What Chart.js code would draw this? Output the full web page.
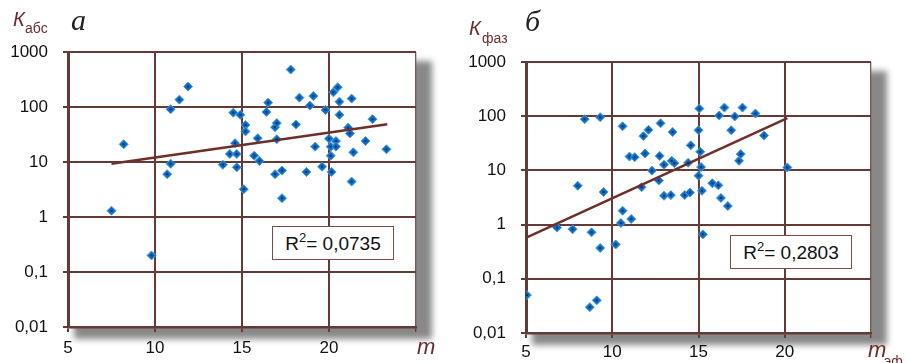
<!DOCTYPE html>
<html>
<head>
<meta charset="utf-8">
<script src="https://cdn.jsdelivr.net/npm/chart.js@4"></script>
<style>
  body { margin: 0; background: #fff; }
  #wrap { position: relative; width: 908px; height: 363px; overflow: hidden; }
  .panel { position: absolute; top: 0; width: 454px; height: 363px; }
  .lbl { position: absolute; line-height: 1; white-space: nowrap; font-family: "Liberation Sans", Arial, sans-serif; }
  .k { color: #6b2c2c; font-style: italic; font-size: 20px; }
  .sub { color: #6b2c2c; font-size: 14px; }
  .letter { font-family: "Liberation Serif", "DejaVu Serif", serif; font-style: italic; font-size: 30px; color: #222; }
  .m { color: #6b2c2c; font-style: italic; font-size: 22px; }
  .rbox { position: absolute; background: #fff; border: 1.5px solid #7d4a45; box-sizing: border-box;
          font-family: "Liberation Sans", Arial, sans-serif; font-size: 19px; color: #111;
          text-align: center; line-height: 33px; }
  .rbox sup { font-size: 13px; vertical-align: 8px; line-height: 0; }
</style>
</head>
<body>
<div id="wrap">
  <div class="panel" style="left:0"><canvas id="chartA" width="454" height="363"></canvas></div>
  <div class="panel" style="left:454px"><canvas id="chartB" width="454" height="363"></canvas></div>

  <span class="lbl k" style="left:13px;top:9px">К</span>
  <span class="lbl sub" style="left:25px;top:21px">абс</span>
  <span class="lbl letter" style="left:71px;top:5px">а</span>
  <span class="lbl m" style="left:417px;top:336px">m</span>

  <span class="lbl k" style="left:469px;top:18px">К</span>
  <span class="lbl sub" style="left:482px;top:31px">фаз</span>
  <span class="lbl letter" style="left:525px;top:6px">б</span>
  <span class="lbl m" style="left:868px;top:339px">m</span>
  <span class="lbl sub" style="left:884px;top:354px">эф</span>

  <div class="rbox" style="left:272px;top:226px;width:122px;height:34px">R<sup>2</sup>= 0,0735</div>
  <div class="rbox" style="left:730px;top:235px;width:122px;height:34px">R<sup>2</sup>= 0,2803</div>
</div>

<script>
// ---- data ----
const xTicks = [5, 10, 15, 20, 25];
const yTicks = [0.01, 0.1, 1, 10, 100, 1000];

// panel "а": m vs K_abs
const absX = [7.5, 8.2, 9.8, 10.7, 10.9, 10.9, 11.4, 11.9, 13.9, 14.3, 14.5, 14.6, 14.7, 14.7,
  14.9, 15.1, 15.2, 15.2, 15.7, 15.9, 16.0, 16.4, 16.5, 16.9, 16.9, 17.0, 17.0, 17.3, 17.3,
  17.8, 18.1, 18.3, 18.7, 18.9, 19.1, 19.2, 19.6, 19.8, 20.0, 20.1, 20.15, 20.1, 20.25, 20.4,
  20.4, 20.5, 20.6, 20.6, 21.1, 21.2, 21.3, 21.3, 21.4, 22.1, 22.5, 23.3];
const absY = [1.3, 21, 0.2, 6, 9.3, 91, 136, 235, 8.9, 14, 79, 22, 14, 8,
  72, 3.2, 47, 36, 13, 27, 10.4, 81, 120, 6, 43, 51, 26, 7, 2.2,
  480, 48, 148, 6.6, 106, 158, 19, 8.2, 88, 26.5, 13, 6.6, 19, 185, 24,
  19, 228, 125, 72, 42, 33, 142, 4.4, 15, 24, 60, 17];
const absTrendX = [7.5, 23.35];
const absTrendY = [9.3, 48.4];

// panel "б": m_эф vs K_фаз
const fazX = [5.05, 6.8, 7.7, 8.0, 8.4, 8.7, 8.8, 9.1, 9.3, 9.3, 9.5, 10.2, 10.5, 10.6, 10.6,
  11.0, 11.1, 11.3, 11.7, 11.8, 11.9, 12.1, 12.3, 12.7, 12.75, 12.8, 13.0, 13.0, 13.4, 13.45,
  13.5, 13.6, 14.2, 14.4, 14.5, 14.55, 15.0, 15.05, 15.0, 15.1, 15.15, 15.2, 15.25, 15.8,
  16.15, 16.2, 16.3, 16.5, 16.7, 16.9, 17.1, 17.35, 17.45, 17.55, 18.3, 18.8, 20.15];
const fazY = [0.05, 0.88, 0.82, 5.2, 88, 0.03, 0.72, 0.04, 0.37, 96, 4.0, 0.43, 1.07, 1.8, 65,
  18, 1.27, 17.5, 4.9, 43, 20.5, 56, 9.9, 6.5, 18.5, 74, 3.4, 12.7, 3.5, 15,
  51, 13.6, 3.5, 13.8, 3.9, 29, 8.0, 138, 55, 22, 11.5, 4.2, 0.66, 5.8,
  5.3, 103, 3.1, 144, 2.2, 55, 99, 15, 20, 144, 112, 44, 11.3];
const fazTrendX = [5.05, 20.15];
const fazTrendY = [0.58, 92];

const gridColor = "#633a36";
const tickFont = { family: "'Liberation Sans', Arial, sans-serif", size: 17 };

function toPoints(xs, ys) {
  return xs.map((x, i) => ({ x: x, y: ys[i] }));
}

function yLabel(v) {
  return String(v).replace(".", ",");
}

// grey drop shadow behind the plot area, then white plot background
const shadowPlugin = {
  id: "shadow",
  beforeDraw(chart) {
    const a = chart.chartArea;
    const ctx = chart.ctx;
    ctx.save();
    ctx.filter = "blur(3px)";
    ctx.fillStyle = "#888";
    ctx.fillRect(a.left + 6, a.top + 9, a.right - a.left + 10, a.bottom - a.top + 3);
    ctx.restore();
    ctx.save();
    ctx.fillStyle = "#fff";
    ctx.fillRect(a.left, a.top, a.right - a.left, a.bottom - a.top);
    ctx.restore();
  },
};

// small dark centre in every marker
const dotPlugin = {
  id: "dots",
  afterDatasetsDraw(chart) {
    const ctx = chart.ctx;
    const meta = chart.getDatasetMeta(1);
    ctx.save();
    ctx.fillStyle = "#0b2e66";
    meta.data.forEach((p) => ctx.fillRect(p.x - 1, p.y - 1, 2, 2));
    ctx.restore();
  },
};

function makeChart(id, xs, ys, tx, ty, opts) {
  const ctx = document.getElementById(id).getContext("2d");
  return new Chart(ctx, {
    type: "scatter",
    data: {
      datasets: [
        {
          type: "line",
          data: toPoints(tx, ty),
          borderColor: "#6e2f2a",
          borderWidth: 2.5,
          pointRadius: 0,
          order: 0,
        },
        {
          data: toPoints(xs, ys),
          pointStyle: "rectRot",
          pointRadius: 4.5,
          pointHoverRadius: 4.5,
          backgroundColor: "#0b6ec2",
          borderColor: "#4f9be0",
          borderWidth: 1,
          order: 1,
        },
      ],
    },
    options: {
      responsive: false,
      animation: false,
      events: [],
      layout: { padding: { top: opts.top, right: opts.right, left: 0, bottom: 0 } },
      plugins: { legend: { display: false }, tooltip: { enabled: false } },
      scales: {
        x: {
          type: "linear",
          min: 5,
          max: 25,
          afterBuildTicks: (s) => { s.ticks = xTicks.map((v) => ({ value: v })); },
          afterFit: (s) => { s.height = opts.xh; },
          ticks: {
            color: "#111",
            font: tickFont,
            padding: opts.xpad,
            maxRotation: 0,
            callback: (v) => (v === 25 ? "" : String(v)),
          },
          grid: {
            color: (c) => (c.tick && c.tick.value === 25 ? "#7d5551" : gridColor),
            lineWidth: (c) => (c.tick && c.tick.value === 25 ? 1.3 : 2),
            tickLength: 5,
            tickColor: gridColor,
          },
          border: { color: gridColor, width: 2.5 },
        },
        y: {
          type: "logarithmic",
          min: 0.01,
          max: 1000,
          afterBuildTicks: (s) => { s.ticks = yTicks.map((v) => ({ value: v })); },
          afterFit: (s) => { s.width = opts.yw; },
          ticks: {
            color: "#111",
            font: tickFont,
            padding: 15,
            callback: (v) => yLabel(v),
          },
          grid: { color: gridColor, lineWidth: 2, tickLength: 5, tickColor: gridColor },
          border: { color: gridColor, width: 3 },
        },
      },
    },
    plugins: [shadowPlugin, dotPlugin],
  });
}

makeChart("chartA", absX, absY, absTrendX, absTrendY, { top: 52, right: 38, yw: 68, xh: 36, xpad: 6 });
makeChart("chartB", fazX, fazY, fazTrendX, fazTrendY, { top: 62, right: 37, yw: 72, xh: 30, xpad: 4 });
</script>
</body>
</html>
